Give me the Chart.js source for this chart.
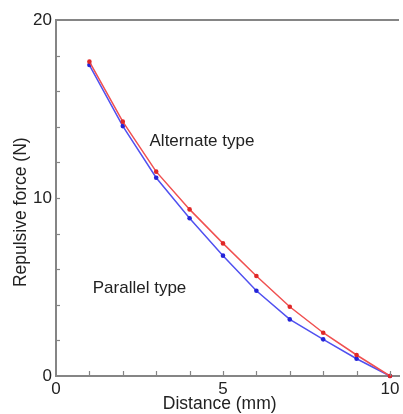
<!DOCTYPE html>
<html>
<head>
<meta charset="utf-8">
<script src="https://cdn.jsdelivr.net/npm/chart.js@4/dist/chart.umd.min.js"></script>
<style>
html,body{margin:0;padding:0;background:#fff;}
#wrap{width:403px;height:414px;position:relative;}
</style>
</head>
<body>
<div id="wrap"><canvas id="c" width="403" height="414"></canvas></div>
<script>
// Data
const distance = [1, 2, 3, 4, 5, 6, 7, 8, 9, 10];
const alternateForce = [17.66, 14.29, 11.48, 9.36, 7.45, 5.62, 3.89, 2.43, 1.18, 0];
const parallelForce  = [17.47, 14.04, 11.14, 8.86, 6.76, 4.79, 3.18, 2.06, 0.97, 0];
const xTickLabels = [0, 5, 10];
const yTickLabels = [0, 10, 20];
const xMinorTicks = [1, 2, 3, 4, 5, 6, 7, 8, 9, 10];
const yMinorTicks = [2, 4, 6, 8, 10, 12, 14, 16, 18];
const xTitle = 'Distance (mm)';
const yTitle = 'Repulsive force (N)';
const annotations = [
  {text: 'Alternate type', x: 2.80, y: 13.2},
  {text: 'Parallel type', x: 1.10, y: 4.94}
];

const toPts = (xs, ys) => xs.map((x, i) => ({x: x, y: ys[i]}));

const AXIS = '#858585';
const FONT = 'Liberation Sans, Arial, sans-serif';

const decor = {
  id: 'decor',
  afterDatasetsDraw(chart) {
    const ctx = chart.ctx, xs = chart.scales.x, ys = chart.scales.y, a = chart.chartArea;
    ctx.save();
    ctx.strokeStyle = AXIS;
    ctx.lineWidth = 1.2;
    // inward ticks on x axis
    xMinorTicks.forEach(v => {
      const px = Math.round(xs.getPixelForValue(v)) + 0.5;
      ctx.beginPath(); ctx.moveTo(px, a.bottom); ctx.lineTo(px, a.bottom - 5); ctx.stroke();
    });
    // inward ticks on y axis
    yMinorTicks.forEach(v => {
      const py = Math.round(ys.getPixelForValue(v)) + 0.5;
      ctx.beginPath(); ctx.moveTo(a.left, py); ctx.lineTo(a.left + 4, py); ctx.stroke();
    });
    // top frame line
    ctx.lineWidth = 2;
    ctx.beginPath(); ctx.moveTo(a.left, a.top); ctx.lineTo(a.right, a.top); ctx.stroke();
    // annotations
    ctx.fillStyle = '#222';
    ctx.font = '17px ' + FONT;
    ctx.textAlign = 'left';
    ctx.textBaseline = 'middle';
    annotations.forEach(t => {
      ctx.fillText(t.text, xs.getPixelForValue(t.x), ys.getPixelForValue(t.y));
    });
    // axis titles
    ctx.font = '17.5px ' + FONT;
    ctx.textAlign = 'center';
    ctx.fillText(xTitle, xs.getPixelForValue(4.9), 404);
    ctx.translate(21, ys.getPixelForValue(9.2));
    ctx.rotate(-Math.PI / 2);
    ctx.fillText(yTitle, 0, 0);
    ctx.restore();
  }
};

new Chart(document.getElementById('c'), {
  type: 'scatter',
  data: {
    datasets: [
      {
        label: 'Alternate type',
        data: toPts(distance, alternateForce),
        showLine: true,
        borderColor: '#f05050',
        backgroundColor: '#e02828',
        borderWidth: 1.5,
        pointRadius: 2.3,
        pointBorderWidth: 0,
        clip: false
      },
      {
        label: 'Parallel type',
        data: toPts(distance, parallelForce),
        showLine: true,
        borderColor: '#5050f0',
        backgroundColor: '#2424d8',
        borderWidth: 1.5,
        pointRadius: 2.3,
        pointBorderWidth: 0,
        clip: false
      }
    ]
  },
  options: {
    responsive: false,
    animation: false,
    devicePixelRatio: 1,
    layout: {padding: {top: 20, right: 0, left: 0, bottom: 0}},
    plugins: {legend: {display: false}, tooltip: {enabled: false}},
    scales: {
      x: {
        type: 'linear',
        min: 0,
        max: 10.27,
        afterFit(s) { s.height = 38; },
        afterBuildTicks(s) { s.ticks = xTickLabels.map(v => ({value: v})); },
        grid: {display: false, drawTicks: false},
        border: {display: true, color: AXIS, width: 2},
        ticks: {color: '#222', font: {family: FONT, size: 17}, padding: 3, maxRotation: 0, autoSkip: false},
        title: {display: false}
      },
      y: {
        type: 'linear',
        min: 0,
        max: 20,
        afterFit(s) { s.width = 56; },
        afterBuildTicks(s) { s.ticks = yTickLabels.map(v => ({value: v})); },
        grid: {display: false, drawTicks: false},
        border: {display: true, color: AXIS, width: 2},
        ticks: {color: '#222', font: {family: FONT, size: 17}, padding: 4},
        title: {display: false}
      }
    }
  },
  plugins: [decor]
});
</script>
</body>
</html>
